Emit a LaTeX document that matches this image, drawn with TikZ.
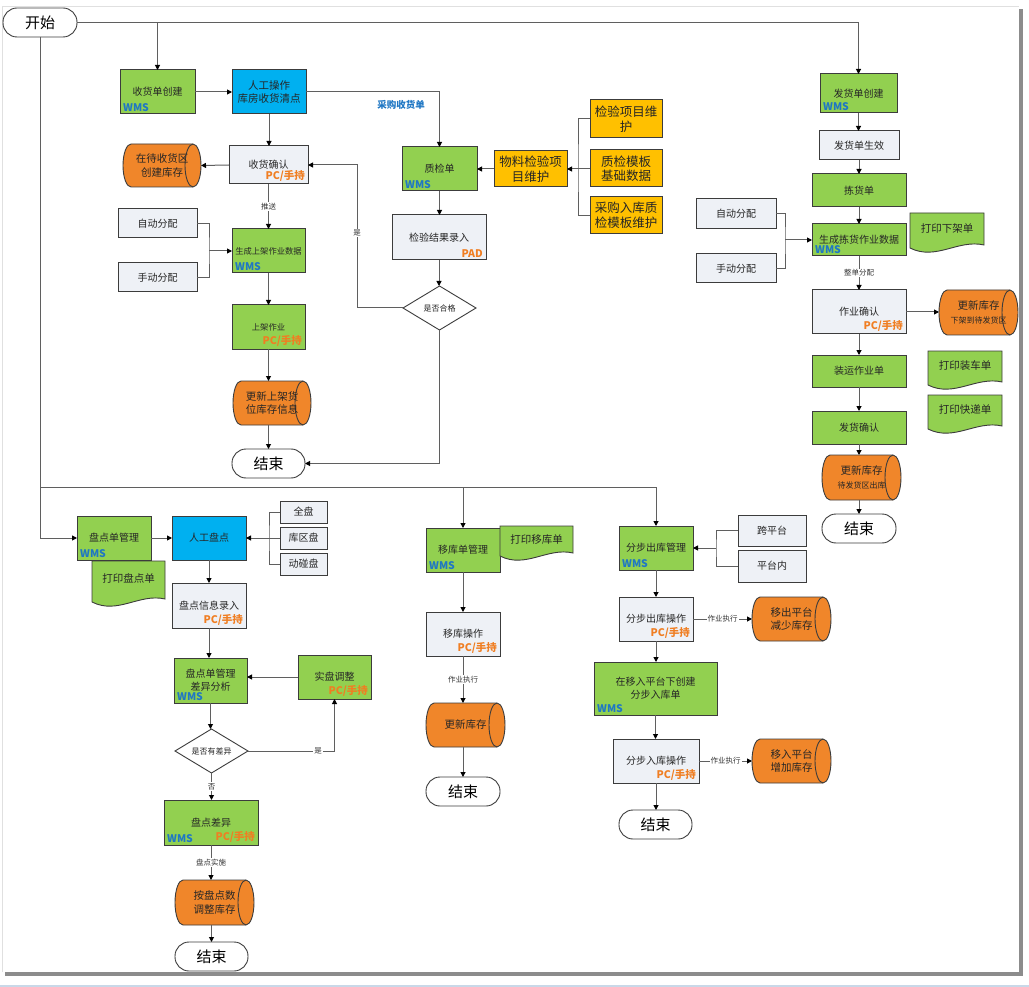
\documentclass[tikz,border=0pt]{standalone}
\usepackage{fontspec}
\setmainfont{Noto Sans CJK SC}
\usetikzlibrary{arrows.meta,calc}
\definecolor{cgreen}{HTML}{92D050}
\definecolor{cblue}{HTML}{00B0F0}
\definecolor{cyel}{HTML}{FFC000}
\definecolor{corg}{HTML}{F0862A}
\definecolor{cgray}{HTML}{EEF1F6}
\definecolor{cwms}{HTML}{1F77C4}
\definecolor{cpc}{HTML}{F07E22}
\definecolor{cline}{HTML}{5F5F5F}
\definecolor{cbord}{HTML}{3C3C3C}
\definecolor{cfoot}{HTML}{C9D8E8}
\tikzset{
 box/.style={draw=cbord,line width=1pt,inner sep=0pt,outer sep=0pt,align=center,text=black!85},
 gbox/.style={fill=cgreen}, bbox/.style={fill=cblue}, ybox/.style={fill=cyel}, lbox/.style={fill=cgray},
 tm/.style={font=\fontsize{10}{13}\selectfont},
 tl/.style={font=\fontsize{10.5}{13.5}\selectfont},
 ty/.style={font=\fontsize{12.5}{14.5}\selectfont},
 ts/.style={font=\fontsize{8.3}{10}\selectfont},
 wmst/.style={inner sep=0pt,font=\fontsize{10.5}{12}\selectfont\bfseries,text=cwms},
 pct/.style={inner sep=0pt,font=\fontsize{10.5}{12}\selectfont\bfseries,text=cpc},
 lab/.style={inner sep=1pt,fill=white,font=\fontsize{7.5}{9}\selectfont,text=black!80},
 conn/.style={draw=cline,line width=1pt,-{Triangle[length=5pt,width=5pt,color=black]}},
 plain/.style={draw=cline,line width=1pt},
 cylst/.style={fill=corg,draw=cbord,line width=0.9pt},
 cyltext/.style={inner sep=0pt,outer sep=0pt,align=center,text=black!85,font=\fontsize{10.5}{13.5}\selectfont},
 docst/.style={fill=cgreen,draw=cbord,line width=0.9pt},
 doctext/.style={inner sep=0pt,align=center,text=black!85,font=\fontsize{10.5}{13}\selectfont},
 stadst/.style={draw=cbord,line width=0.9pt,fill=white,rounded corners=14pt,inner sep=0pt,outer sep=0pt,font=\fontsize{15}{17}\selectfont},
 diast/.style={fill=white,draw=cbord,line width=0.9pt},
 diatext/.style={inner sep=0pt,outer sep=0pt,font=\fontsize{8}{10}\selectfont,text=black!85},
}
\newcommand\mybx[7]{\node[box,#2,minimum width={#5pt-#3pt},minimum height={#6pt-#4pt}] (#1) at ({(#3+#5)/2},{(#4+#6)/2}) {#7};}
\newcommand\mywms[1]{\node[wmst,anchor=south west] (#1w) at ([shift={(3pt,2.5pt)}]#1.south west) {WMS};}
\newcommand\mypc[1]{\node[pct,anchor=south east] (#1p) at ([shift={(-3pt,2pt)}]#1.south east) {PC/手持};}
\newcommand\mycyl[6]{%
 \path[cylst] ({#2+8},#3) -- ({#4-8},#3) arc[start angle=90,end angle=-90,x radius=8pt,y radius={(#5-#3)/2*1pt}] -- ({#2+8},#5) arc[start angle=270,end angle=90,x radius=8pt,y radius={(#5-#3)/2*1pt}] -- cycle;
 \draw[cbord,line width=0.9pt] ({#4-8},#3) arc[start angle=90,end angle=270,x radius=8pt,y radius={(#5-#3)/2*1pt}];
 \node[cyltext,minimum width={#4pt-#2pt},minimum height={#5pt-#3pt}] (#1) at ({(#2+#4)/2},{(#3+#5)/2}) {#6};}
\newcommand\mydoc[6]{%
 \path[docst] (#2,#3) -- (#4,#3) -- (#4,{#5-8}) .. controls ({#4-0.35*(#4-#2)},{#5-14}) and ({#2+0.35*(#4-#2)},{#5+8}) .. (#2,{#5-5}) -- cycle;
 \node[doctext] (#1) at ({(#2+#4)/2},{#3+(#5-#3)*0.38}) {#6};}
\newcommand\mystad[6]{\node[stadst,minimum width={#4pt-#2pt},minimum height={#5pt-#3pt}] (#1) at ({(#2+#4)/2},{(#3+#5)/2}) {#6};}
\newcommand\mydia[6]{%
 \path[diast] ({(#2+#4)/2},#3) -- (#4,{(#3+#5)/2}) -- ({(#2+#4)/2},#5) -- (#2,{(#3+#5)/2}) -- cycle;
 \node[diatext,minimum width={#4pt-#2pt},minimum height={#5pt-#3pt}] (#1) at ({(#2+#4)/2},{(#3+#5)/2}) {#6};}
\begin{document}
\begin{tikzpicture}[x=1pt,y=-1pt]
\useasboundingbox (0,0) rectangle (1029,987);
\fill[white] (0,0) rectangle (1029,987);
% page frame
\draw[black!12,line width=0.8pt] (2,972) -- (2,6) -- (1019,6);
\fill[black!45] (1019,9) rectangle (1022.5,975.5);
\fill[black!45] (5,972) rectangle (1022.5,975.5);
\fill[cfoot] (0,985) rectangle (1029,987);

% ---------- nodes ----------
\mystad{start}{3}{8}{77}{37}{开始}
% receiving
\mybx{r1}{gbox,tm}{120}{70}{195}{114}{收货单创建}\mywms{r1}
\mybx{r2}{bbox,tl}{232}{70}{306}{114}{人工操作\\库房收货清点}
\mybx{r3}{lbox,tm}{229}{146}{308}{184}{收货确认}\mypc{r3}
\mycyl{r4}{123}{144}{201}{187}{在待收货区\\创建库存}
\mybx{r5}{lbox,tm}{118}{209}{197}{238}{自动分配}
\mybx{r6}{lbox,tm}{118}{263}{197}{292}{手动分配}
\mybx{r7}{gbox,ts}{232}{229}{305}{273}{生成上架作业数据}\mywms{r7}
\mybx{r8}{gbox,ts}{232}{305}{305}{349}{上架作业}\mypc{r8}
\mycyl{r9}{233}{381}{311}{425}{更新上架货\\位库存信息}
\mystad{r10}{232}{449}{305}{478}{结束}
% quality
\mybx{q1}{gbox,tm}{402}{147}{477}{191}{质检单}\mywms{q1}
\mybx{q2}{lbox,tm}{392}{215}{486}{260}{检验结果录入}
\node[pct,anchor=south east] (q2p) at ([shift={(-3pt,2pt)}]q2.south east) {PAD};
\mydia{q3}{403}{286}{476}{330}{是否合格}
\mybx{q4}{ybox,ty}{494}{151}{567}{187}{物料检验项\\目维护}
\mybx{q5}{ybox,ty}{590}{100}{662}{138}{检验项目维\\护}
\mybx{q6}{ybox,ty}{590}{150}{662}{187}{质检模板\\基础数据}
\mybx{q7}{ybox,ty}{590}{197}{662}{234}{采购入库质\\检模板维护}
% shipping
\mybx{s1}{gbox,tm}{820}{74}{897}{113}{发货单创建}\mywms{s1}
\mybx{s2}{lbox,tm}{819}{131}{899}{160}{发货单生效}
\mybx{s3}{gbox,tm}{812}{174}{906}{207}{拣货单}
\mybx{s4}{gbox,tm}{812}{224}{906}{256}{生成拣货作业数据}\mywms{s4}
\mybx{s5}{lbox,tm}{696}{199}{776}{229}{自动分配}
\mybx{s6}{lbox,tm}{696}{254}{776}{283}{手动分配}
\mydoc{s7}{910}{213}{984}{253}{打印下架单}
\mybx{s8}{lbox,tm}{812}{290}{906}{334}{作业确认}\mypc{s8}
\mycyl{s9}{939}{290}{1018}{335}{更新库存\\{\fontsize{8}{10}\selectfont 下架到待发货区}}
\mybx{s10}{gbox,tm}{812}{355}{906}{387}{装运作业单}
\mydoc{s11}{928}{351}{1002}{390}{打印装车单}
\mydoc{s12}{928}{395}{1002}{434}{打印快递单}
\mybx{s13}{gbox,tm}{812}{411}{906}{444}{发货确认}
\mycyl{s14}{822}{455}{901}{500}{更新库存\\{\fontsize{8}{10}\selectfont 待发货区出库}}
\mystad{s15}{822}{514}{896}{543}{结束}
% counting
\mydoc{c2}{92}{561}{165}{607}{打印盘点单}
\mybx{c1}{gbox,tm}{77}{516}{151}{560}{盘点单管理}\mywms{c1}
\mybx{c3}{bbox,tm}{172}{516}{246}{560}{人工盘点}
\mybx{c4}{lbox,tm}{280}{501}{327}{523}{全盘}
\mybx{c5}{lbox,tm}{280}{527}{327}{549}{库区盘}
\mybx{c6}{lbox,tm}{280}{553}{327}{575}{动碰盘}
\mybx{c7}{lbox,tm}{172}{583}{246}{628}{盘点信息录入}\mypc{c7}
\mybx{c8}{gbox,tm}{174}{658}{247}{703}{盘点单管理\\差异分析}\mywms{c8}
\mybx{c9}{gbox,tm}{298}{655}{371}{699}{实盘调整}\mypc{c9}
\mydia{c10}{175}{729}{248}{773}{是否有差异}
\mybx{c11}{gbox,tm}{164}{800}{258}{845}{盘点差异}\mywms{c11}\mypc{c11}
\mycyl{c12}{175}{880}{254}{925}{按盘点数\\调整库存}
\mystad{c13}{175}{942}{248}{971}{结束}
% transfer
\mybx{m1}{gbox,tm}{426}{528}{500}{572}{移库单管理}\mywms{m1}
\mydoc{m2}{500}{526}{573}{561}{打印移库单}
\mybx{m3}{lbox,tm}{426}{612}{500}{656}{移库操作}\mypc{m3}
\mycyl{m4}{426}{703}{505}{747}{更新库存}
\mystad{m5}{426}{777}{500}{806}{结束}
% step transfer
\mybx{t1}{gbox,tm}{619}{526}{693}{570}{分步出库管理}\mywms{t1}
\mybx{t2}{lbox,tm}{738}{515}{806}{546}{跨平台}
\mybx{t3}{lbox,tm}{738}{550}{806}{582}{平台内}
\mybx{t4}{lbox,tm}{619}{597}{693}{641}{分步出库操作}\mypc{t4}
\mycyl{t5}{752}{597}{831}{641}{移出平台\\减少库存}
\mybx{t6}{gbox,tm}{594}{662}{717}{715}{在移入平台下创建\\分步入库单}\mywms{t6}
\mybx{t7}{lbox,tm}{613}{739}{699}{783}{分步入库操作}\mypc{t7}
\mycyl{t8}{752}{739}{831}{783}{移入平台\\增加库存}
\mystad{t9}{619}{810}{692}{839}{结束}

% ---------- connectors ----------
\coordinate (hl) at (40,487);
\draw[conn] (start.east) -| (s1.north);
\draw[conn] (start.east -| r1.north) -- (r1.north);
\draw[plain] (start.south) -- (hl);
\draw[conn] (hl) |- (c1.west);
\draw[conn] (hl) -| (t1.north);
\draw[conn] (hl -| m1.north) -- (m1.north);
% receiving
\draw[conn] (r1.east) -- (r2.west);
\draw[conn] (r2.east) -| (q1.north);
\node[inner sep=0pt,font=\fontsize{9.5}{11}\selectfont\bfseries,text=cwms] (lbA) at (401,105) {采购收货单};
\draw[conn] (r2.south) -- (r2.south |- r3.north);
\draw[conn] (r3.west) -- (r4.east);
\draw[conn] (r3.south) -- (r3.south |- r7.north) node[lab,midway] (lbB) {推送};
\coordinate (jr) at (209,251);
\draw[plain] (r5.east) -| (jr) |- (r6.east);
\draw[conn] (jr) -- (jr -| r7.west);
\draw[conn] (r7.south) -- (r7.south |- r8.north);
\draw[conn] (r8.south) -- (r8.south |- r9.north);
\draw[conn] (r10.north |- r9.south) -- (r10.north);
% quality
\draw[conn] (q1.south) -- (q1.south |- q2.north);
\draw[conn] (q2.south) -- (q2.south |- q3.north);
\draw[conn] (q3.south) |- (r10.east);
\draw[conn] (q3.west) -- ++(-46,0) |- (r3.east);
\node[lab] (lbC) at (357,233) {是};
\draw[conn] (q4.west) -- (q4.west -| q1.east);
\coordinate (jq) at (578,169);
\draw[plain] (q5.west) -| (jq) |- (q7.west);
\draw[plain] (q6.west) -- (q6.west -| jq);
\draw[conn] (jq) -- (jq -| q4.east);
% shipping
\draw[conn] (s1.south) -- (s1.south |- s2.north);
\draw[conn] (s2.south) -- (s2.south |- s3.north);
\draw[conn] (s3.south) -- (s3.south |- s4.north);
\coordinate (js) at (785,240);
\draw[plain] (s5.east) -| (js) |- (s6.east);
\draw[conn] (js) -- (js -| s4.west);
\draw[conn] (s4.south) -- (s4.south |- s8.north) node[lab,midway] (lbD) {整单分配};
\draw[conn] (s8.east) -- (s8.east -| s9.west);
\draw[conn] (s8.south) -- (s8.south |- s10.north);
\draw[conn] (s10.south) -- (s10.south |- s13.north);
\draw[conn] (s13.south) -- (s13.south |- s14.north);
\draw[conn] (s15.north |- s14.south) -- (s15.north);
% counting
\draw[conn] (c1.east) -- (c3.west);
\coordinate (jc) at (269,538);
\draw[plain] (c4.west) -| (jc) |- (c6.west);
\draw[conn] (c5.west) -- (c3.east);
\draw[conn] (c3.south) -- (c3.south |- c7.north);
\draw[conn] (c7.south) -- (c7.south |- c8.north);
\draw[conn] (c9.west) -- (c9.west -| c8.east);
\draw[conn] (c8.south) -- (c8.south |- c10.north);
\draw[conn] (c10.east) -| (c9.south);
\node[lab] (lbE) at (318,751) {是};
\draw[conn] (c10.south) -- (c10.south |- c11.north) node[lab,midway] (lbF) {否};
\draw[conn] (c11.south) -- (c11.south |- c12.north) node[lab,midway] (lbG) {盘点实施};
\draw[conn] (c13.north |- c12.south) -- (c13.north);
% transfer
\draw[conn] (m1.south) -- (m1.south |- m3.north);
\draw[conn] (m3.south) -- (m3.south |- m4.north) node[lab,midway] (lbH) {作业执行};
\draw[conn] (m5.north |- m4.south) -- (m5.north);
% step transfer
\draw[conn] (t1.south) -- (t1.south |- t4.north);
\coordinate (jt) at (716,548);
\draw[plain] (t2.west) -| (jt) |- (t3.west);
\draw[conn] (jt) -- (jt -| t1.east);
\draw[conn] (t4.east) -- (t4.east -| t5.west) node[lab,midway] (lbI) {作业执行};
\draw[conn] (t4.south) -- (t4.south |- t6.north);
\draw[conn] (t6.south) -- (t6.south |- t7.north);
\draw[conn] (t7.east) -- (t7.east -| t8.west) node[lab,midway] (lbJ) {作业执行};
\draw[conn] (t7.south) -- (t7.south |- t9.north);
\end{tikzpicture}
\end{document}
